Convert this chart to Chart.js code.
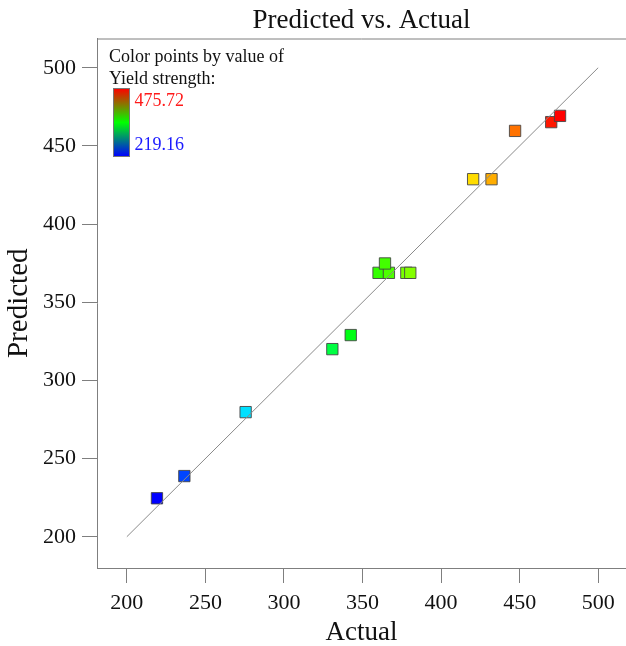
<!DOCTYPE html>
<html>
<head>
<meta charset="utf-8">
<script src="https://cdn.jsdelivr.net/npm/chart.js@4.4.1/dist/chart.umd.min.js"></script>
<style>
  html, body { margin: 0; padding: 0; background: #fff; }
  #wrap { width: 626px; height: 646px; position: relative; }
</style>
</head>
<body>
<div id="wrap"><canvas id="predChart"></canvas></div>
<script>
// data
const actual    = [219.16, 236.6, 275.6, 330.8, 342.5, 360.2, 366.8, 364.3, 377.9, 380.4, 420.4, 432.1, 447.1, 470.1, 475.72];
const predicted = [224.6, 238.8, 279.7, 320.0, 329.0, 368.8, 368.8, 374.8, 368.8, 368.8, 428.7, 428.7, 459.6, 465.2, 469.2];
const refLine   = [200, 500];
const tickValues = [200, 250, 300, 350, 400, 450, 500];
const colorRange = [219.16, 475.72];

const SERIF = "'Liberation Serif', 'Times New Roman', serif";
const AXIS = '#7f7f7f';

// rainbow map: blue (low) -> red (high)
function valueColor(v) {
  const t = Math.max(0, Math.min(1, (v - colorRange[0]) / (colorRange[1] - colorRange[0])));
  return 'hsl(' + (240 * (1 - t)).toFixed(1) + ', 100%, 50%)';
}

const points = actual.map((a, i) => ({ x: a, y: predicted[i] }));

const extras = {
  id: 'extras',
  afterDraw(chart) {
    const { ctx, chartArea } = chart;
    ctx.save();
    // top frame line
    ctx.strokeStyle = AXIS;
    ctx.lineWidth = 1;
    ctx.beginPath();
    ctx.moveTo(chartArea.left, chartArea.top + 0.5);
    ctx.lineTo(chart.width, chartArea.top + 0.5);
    ctx.stroke();

    // color legend
    ctx.fillStyle = '#111';
    ctx.font = '18px ' + SERIF;
    ctx.textBaseline = 'alphabetic';
    ctx.textAlign = 'left';
    ctx.fillText('Color points by value of', 109, 62);
    ctx.fillText('Yield strength:', 109, 83.5);

    const bx = 113.5, by = 88.5, bw = 16, bh = 68;
    const g = ctx.createLinearGradient(0, by, 0, by + bh);
    g.addColorStop(0, 'rgb(255,0,0)');
    g.addColorStop(0.5, 'rgb(0,255,0)');
    g.addColorStop(1, 'rgb(0,0,255)');
    ctx.fillStyle = g;
    ctx.fillRect(bx, by, bw, bh);
    ctx.strokeStyle = '#777';
    ctx.strokeRect(bx, by, bw, bh);

    ctx.fillStyle = '#ff1a1a';
    ctx.fillText(colorRange[1].toFixed(2), 134.5, 106);
    ctx.fillStyle = '#1a1aff';
    ctx.fillText(colorRange[0].toFixed(2), 134.5, 149.5);
    ctx.restore();
  }
};

new Chart(document.getElementById('predChart').getContext('2d'), {
  type: 'scatter',
  data: {
    datasets: [
      {
        type: 'line',
        data: refLine.map(v => ({ x: v, y: v })),
        borderColor: '#8a8a8a',
        borderWidth: 1,
        pointRadius: 0,
        fill: false,
        order: 0
      },
      {
        data: points,
        pointStyle: 'rect',
        pointRadius: 8,
        pointHoverRadius: 8,
        backgroundColor: actual.map(valueColor),
        borderColor: 'rgba(70,70,70,0.9)',
        borderWidth: 1,
        order: 1
      }
    ]
  },
  options: {
    responsive: true,
    maintainAspectRatio: false,
    animation: false,
    layout: { padding: 0, autoPadding: false },
    plugins: {
      legend: { display: false },
      tooltip: { enabled: false },
      title: {
        display: true,
        text: 'Predicted vs. Actual',
        fullSize: false,
        color: '#111',
        font: { family: SERIF, size: 27, weight: 'normal', lineHeight: 1.0 },
        padding: { top: 7, bottom: 4.5 }
      }
    },
    scales: {
      x: {
        type: 'linear',
        min: 181,
        max: 517.7,
        afterBuildTicks: s => { s.ticks = tickValues.map(v => ({ value: v })); },
        afterFit: s => { s.height = 78; s.paddingLeft = 0; s.paddingRight = 0; },
        grid: { drawOnChartArea: false, drawTicks: true, tickLength: 15, color: AXIS },
        border: { display: true, color: AXIS, width: 1 },
        ticks: { color: '#111', padding: 7, maxRotation: 0, font: { family: SERIF, size: 22 } },
        title: {
          display: true, text: 'Actual', color: '#111',
          font: { family: SERIF, size: 27, lineHeight: 1.0 }, padding: { top: 0, bottom: 0 }
        }
      },
      y: {
        type: 'linear',
        min: 180,
        max: 518.7,
        afterBuildTicks: s => { s.ticks = tickValues.map(v => ({ value: v })); },
        afterFit: s => { s.width = 97; s.paddingTop = 0; s.paddingBottom = 0; },
        grid: { drawOnChartArea: false, drawTicks: true, tickLength: 15, color: AXIS },
        border: { display: true, color: AXIS, width: 1 },
        ticks: { color: '#111', padding: 6, font: { family: SERIF, size: 22 } },
        title: {
          display: true, text: 'Predicted', color: '#111',
          font: { family: SERIF, size: 29 }, padding: { top: 2, bottom: 0 }
        }
      }
    }
  },
  plugins: [extras]
});
</script>
</body>
</html>
